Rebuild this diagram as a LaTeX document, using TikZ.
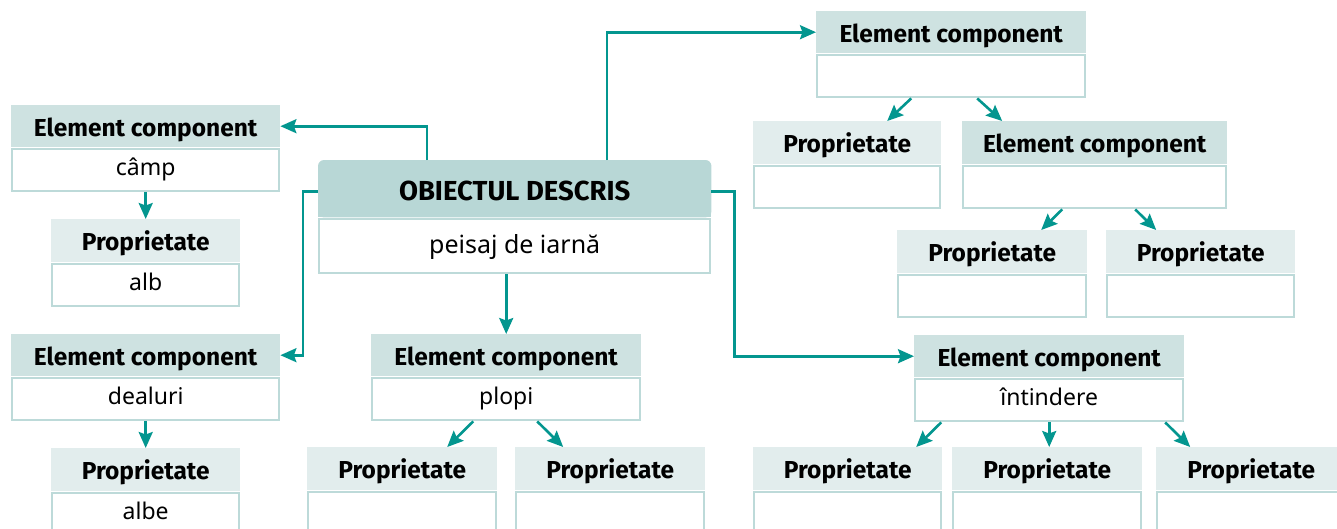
\documentclass[tikz,border=0pt]{standalone}
\usepackage{fontspec}
\setmainfont{Noto Sans}
\newfontfamily\hdfont{Fira Sans}
\usetikzlibrary{arrows.meta}
\definecolor{cT}{HTML}{03968F}
\definecolor{cE}{HTML}{CEE2E1}
\definecolor{cP}{HTML}{E2EDED}
\definecolor{cC}{HTML}{B8D7D6}
\definecolor{bdr}{HTML}{BDDAD9}
\pgfdeclarelayer{bg}\pgfsetlayers{bg,main}
\begin{document}
\begin{tikzpicture}[x=1pt,y=-1pt,
 hd/.style={anchor=north west, inner sep=0pt, minimum height=42pt, text height=20pt, text depth=0pt,
   font=\hdfont\fontsize{24.5}{28}\selectfont\bfseries, text=black},
 ehead/.style={hd, fill=cE},
 phead/.style={hd, fill=cP, minimum height=43pt},
 bodybox/.style={anchor=north, draw=bdr, line width=2pt, fill=white, inner sep=0pt, minimum height=42pt,
   text height=15pt, text depth=5pt, font=\fontsize{23}{26}\selectfont, text=black},
 conn/.style={draw=cT, line width=2.6pt, -{Stealth[length=16pt,width=14pt,inset=2.5pt]}},
]
\useasboundingbox (0,0) rectangle (1337,528);
% left column
\node[ehead, minimum width=269pt] (camph) at (11,105) {Element component};
\node[bodybox, minimum width=267pt] (campb) at ([yshift=-1pt]camph.south) {câmp};
\node[phead, minimum width=189pt] (albh) at (51,219) {Proprietate};
\node[bodybox, minimum width=187pt] (albb) at ([yshift=-1pt]albh.south) {alb};
\node[ehead, minimum width=269pt] (dealh) at (11,334) {Element component};
\node[bodybox, minimum width=267pt] (dealb) at ([yshift=-1pt]dealh.south) {dealuri};
\node[phead, minimum width=189pt] (albeh) at (51,448) {Proprietate};
\node[bodybox, minimum width=187pt] (albeb) at ([yshift=-1pt]albeh.south) {albe};
% central
\node[hd, minimum width=393pt, minimum height=57pt, text height=24pt, font=\hdfont\fontsize{27.5}{31}\selectfont\bfseries] (objh) at (318,160) {OBIECTUL DESCRIS};
\node[bodybox, minimum width=391pt, minimum height=54pt, text height=17pt, text depth=3pt, font=\fontsize{25}{29}\selectfont] (objb) at ([yshift=-1pt]objh.south) {peisaj de iarnă};
\begin{pgfonlayer}{bg}
\fill[cC, rounded corners=6pt] (objh.north west) rectangle (objh.south east);
\fill[cC] ([yshift=10pt]objh.south west) rectangle (objh.south east);
\end{pgfonlayer}
% plopi
\node[ehead, minimum width=270pt] (plopih) at (371,334) {Element component};
\node[bodybox, minimum width=268pt] (plopib) at ([yshift=-1pt]plopih.south) {plopi};
\node[phead, minimum width=190pt] (pp1h) at (307,447) {Proprietate};
\node[bodybox, minimum width=188pt] (pp1b) at ([yshift=-1pt]pp1h.south) {};
\node[phead, minimum width=190pt] (pp2h) at (515,447) {Proprietate};
\node[bodybox, minimum width=188pt] (pp2b) at ([yshift=-1pt]pp2h.south) {};
% top right
\node[ehead, minimum width=270pt] (e1h) at (816,11) {Element component};
\node[bodybox, minimum width=268pt] (e1b) at ([yshift=-1pt]e1h.south) {};
\node[phead, minimum width=188pt] (t1h) at (753,121) {Proprietate};
\node[bodybox, minimum width=186pt] (t1b) at ([yshift=-1pt]t1h.south) {};
\node[ehead, minimum width=265pt, minimum height=43pt] (e2h) at (962,121) {Element component};
\node[bodybox, minimum width=263pt] (e2b) at ([yshift=-1pt]e2h.south) {};
\node[phead, minimum width=190pt] (t2h) at (897,230) {Proprietate};
\node[bodybox, minimum width=188pt] (t2b) at ([yshift=-1pt]t2h.south) {};
\node[phead, minimum width=189pt] (t3h) at (1106,230) {Proprietate};
\node[bodybox, minimum width=187pt] (t3b) at ([yshift=-1pt]t3h.south) {};
% intindere
\node[ehead, minimum width=270pt] (ih) at (914,335) {Element component};
\node[bodybox, minimum width=268pt] (ib) at ([yshift=-1pt]ih.south) {întindere};
\node[phead, minimum width=189pt] (b1h) at (753,447) {Proprietate};
\node[bodybox, minimum width=187pt] (b1b) at ([yshift=-1pt]b1h.south) {};
\node[phead, minimum width=190pt] (b2h) at (952,447) {Proprietate};
\node[bodybox, minimum width=188pt] (b2b) at ([yshift=-1pt]b2h.south) {};
\node[phead, minimum width=190pt] (b3h) at (1156,447) {Proprietate};
\node[bodybox, minimum width=188pt] (b3b) at ([yshift=-1pt]b3h.south) {};
% connectors
\draw[conn] ([xshift=109pt]objh.north west) |- (camph.east);
\draw[conn] ([yshift=-3pt]objh.west) -- ++(-15,0) |- (dealh.east);
\draw[conn] ([xshift=289pt]objh.north west) |- (e1h.west);
\draw[conn] (plopih.north |- objb.south) -- (plopih.north);
\draw[conn] ([yshift=-3pt]objh.east) -- ++(23,0) |- (ih.west);
\draw[conn] (campb.south) -- (albh.north);
\draw[conn] (dealb.south) -- (albeh.north);
\draw[conn] ([xshift=-33pt]plopib.south) -- ([xshift=45pt]pp1h.north);
\draw[conn] ([xshift=31pt]plopib.south) -- ([xshift=-47pt]pp2h.north);
\draw[conn] ([xshift=-40pt]e1b.south) -- ([xshift=40pt]t1h.north);
\draw[conn] ([xshift=26pt]e1b.south) -- ([xshift=-92.5pt]e2h.north);
\draw[conn] ([xshift=-32.5pt]e2b.south) -- ([xshift=49pt]t2h.north);
\draw[conn] ([xshift=40.5pt]e2b.south) -- ([xshift=-44.5pt]t3h.north);
\draw[conn] ([xshift=-108pt]ib.south) -- ([xshift=68.5pt]b1h.north);
\draw[conn] (ib.south) -- (ib.south |- b2h.north);
\draw[conn] ([xshift=116pt]ib.south) -- ([xshift=-61pt]b3h.north);
\end{tikzpicture}
\end{document}
